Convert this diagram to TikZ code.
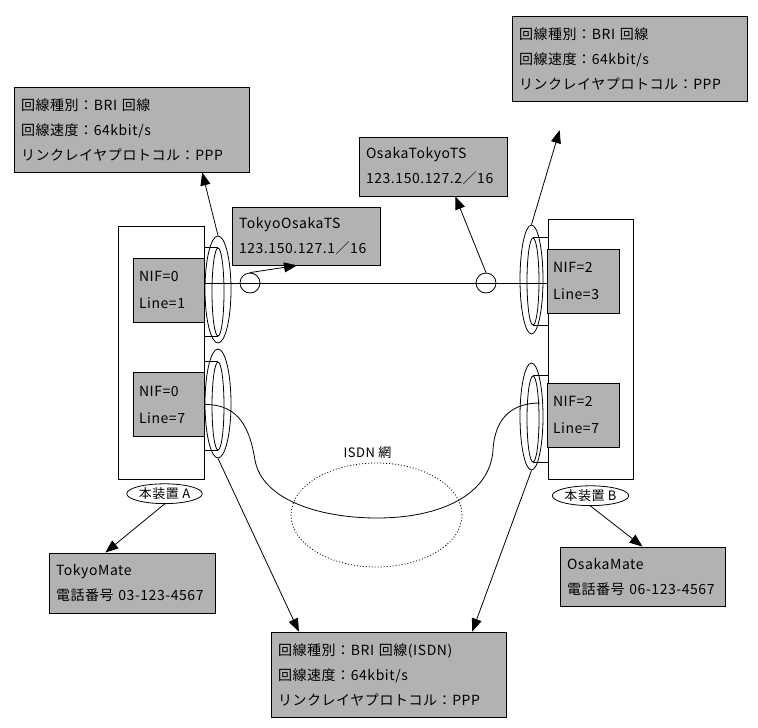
\documentclass[tikz,border=0pt]{standalone}
\usepackage{fontspec}
\setmainfont[LetterSpace=4]{Noto Sans CJK JP}
\usepackage{tikz}
\usetikzlibrary{calc}
\usetikzlibrary{arrows.meta}
\usetikzlibrary{positioning}
\usetikzlibrary{shapes}
\definecolor{BoxGray}{RGB}{178,178,178}

\begin{document}
\begin{tikzpicture}[x=1pt, y=-1pt, line width=0.8pt,
 infobox/.style = {draw, rectangle, fill=BoxGray, align=left, inner xsep=7pt, inner ysep=0pt,
                   font=\fontsize{14}{25}\selectfont},
 nifbox/.style = {draw, rectangle, fill=BoxGray, align=left, inner xsep=6pt, text width=59pt,
                  minimum height=64pt, font=\fontsize{14}{27}\selectfont},
 device/.style = {draw, rectangle, fill=white},
 ring/.style = {draw, ellipse, inner sep=0pt},
 tag/.style = {draw, ellipse, inner sep=1pt, font=\fontsize{13}{15}\selectfont},
 port/.style = {draw, circle, minimum size=20pt, inner sep=0pt},
 link/.style = {-{Triangle[length=13pt, width=10pt]}},
                        ]
    \useasboundingbox (0,0) rectangle (758,728);

    \node [device, minimum width=86pt, minimum height=253pt] (devA) at (161,352.5) {};
    \node [nifbox] (nifA1) at (168.5,290) {NIF=0\\Line=1};
    \node [nifbox] (nifA7) at (168.5,404.5) {NIF=0\\Line=7};
    \node [tag, below=4pt of devA, xshift=3.5pt] (tagA) {本装置 A};

    \node [device, minimum width=85pt, minimum height=260pt] (devB) at (590.5,349) {};
    \node [nifbox, text width=60pt] (nifB3) at (583,281) {NIF=2\\Line=3};
    \node [nifbox, text width=60pt] (nifB7) at (583,415) {NIF=2\\Line=7};
    \node [tag, below=6pt of devB] (tagB) {本装置 B};

    \node [ring, minimum width=26pt, minimum height=107pt] (ringA1) at (218,289.5) {};
    \node [ring, minimum width=12pt, minimum height=88pt] (ringA1i) at (218,292) {};
    \node [ring, minimum width=26pt, minimum height=109pt] (ringA7) at (218,403.5) {};
    \node [ring, minimum width=12pt, minimum height=88pt] (ringA7i) at (218,406) {};
    \node [ring, minimum width=23pt, minimum height=109pt] (ringB3) at (531.5,279.5) {};
    \node [ring, minimum width=12pt, minimum height=87pt] (ringB3i) at (533,281.5) {};
    \node [ring, minimum width=23pt, minimum height=107pt] (ringB7) at (531.5,416.5) {};
    \node [ring, minimum width=12pt, minimum height=86pt] (ringB7i) at (533,419) {};

    \draw (devA.east |- ringA1i.north) -- (ringA1i.north);
    \draw (devA.east |- ringA1i.south) -- (ringA1i.south);
    \draw (devA.east |- ringA7i.north) -- (ringA7i.north);
    \draw (devA.east |- ringA7i.south) -- (ringA7i.south);
    \draw (devB.west |- ringB3i.north) -- (ringB3i.north);
    \draw (devB.west |- ringB3i.south) -- (ringB3i.south);
    \draw (devB.west |- ringB7i.north) -- (ringB7i.north);
    \draw (devB.west |- ringB7i.south) -- (ringB7i.south);

    \node [port] (portA) at (250,283) {};
    \node [port] (portB) at (486,283) {};
    \draw (nifA1.east |- portA) -- (nifB3.west |- portB);

    \node [draw, ellipse, dash pattern=on 1pt off 2pt, minimum width=171pt, minimum height=104pt] (isdn) at (376.5,515) {};
    \node [above=0pt of isdn, xshift=-9pt, font=\fontsize{13}{15}\selectfont] (isdnTitle) {ISDN 網};

    \coordinate (endB7) at (540,403);
    \draw (nifA7.east) .. controls (240,404) and (250,430) .. (255,460)
          .. controls (262,500) and (320,518) .. (377,518)
          .. controls (440,518) and (490,495) .. (493,450)
          .. controls (495,415) and (515,403) .. (endB7);

    \node [infobox, text width=221pt, minimum height=85pt] (lineTA) at (131.5,129.5) {回線種別：BRI 回線\\回線速度：64kbit/s\\リンクレイヤプロトコル：PPP};
    \node [infobox, text width=221pt, minimum height=85pt] (lineTB) at (629.5,58.5) {回線種別：BRI 回線\\回線速度：64kbit/s\\リンクレイヤプロトコル：PPP};
    \node [infobox, text width=134pt, minimum height=58pt] (tsA) at (306,236) {TokyoOsakaTS\\123.150.127.1／16};
    \node [infobox, text width=134pt, minimum height=59pt] (tsB) at (433,166.5) {OsakaTokyoTS\\123.150.127.2／16};
    \node [infobox, text width=152pt, minimum height=60pt] (mateA) at (132,583) {TokyoMate\\電話番号 03-123-4567};
    \node [infobox, text width=151pt, minimum height=59pt] (mateB) at (642.5,576.5) {OsakaMate\\電話番号 06-123-4567};
    \node [infobox, text width=221pt, minimum height=85pt] (lineISDN) at (388.5,674.5) {回線種別：BRI 回線(ISDN)\\回線速度：64kbit/s\\リンクレイヤプロトコル：PPP};

    \draw [link] (ringA1.north) -- ($(lineTA.south west)!0.8!(lineTA.south east)$);
    \draw [link, shorten >=30pt] (ringB3.north) -- ($(lineTB.south west)!0.24!(lineTB.south east)$);
    \draw [link] (portA.north) -- ($(tsA.south west)!0.44!(tsA.south east)$);
    \draw [link] (portB.north) -- ($(tsB.south west)!0.65!(tsB.south east)$);
    \draw [link] (tagA.south) -- ($(mateA.north west)!0.34!(mateA.north east)$);
    \draw [link] (tagB.south) -- (mateB.north);
    \draw [link] (ringA7.south) -- ($(lineISDN.north west)!0.12!(lineISDN.north east)$);
    \draw [link] (ringB7.south) -- ($(lineISDN.north west)!0.855!(lineISDN.north east)$);

\end{tikzpicture}
\end{document}
